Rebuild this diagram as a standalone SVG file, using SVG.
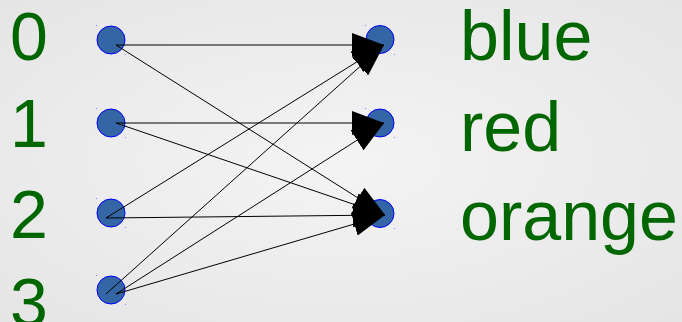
<svg xmlns="http://www.w3.org/2000/svg" width="682" height="322" viewBox="0 0 682 322">
  <defs>
    <radialGradient id="bg" cx="50%" cy="50%" r="75%">
      <stop offset="0" stop-color="#f4f4f4"/>
      <stop offset="1" stop-color="#e4e4e4"/>
    </radialGradient>
    <marker id="arr" markerUnits="userSpaceOnUse" markerWidth="32" markerHeight="24" refX="32" refY="12" orient="auto" viewBox="0 0 32 24">
      <path d="M0,0 L32,12 L0,24 z" fill="#000"/>
    </marker>
  </defs>
  <style>
    .node { fill: #3465a4; stroke: #0000ff; stroke-width: 1; }
    .edge { stroke: #000; stroke-width: 1; fill: none; marker-end: url(#arr); }
    .lbl { font-family: "Liberation Sans", Arial, sans-serif; font-size: 68px; fill: #006600; }
    .dot { fill: #8080ff; }
  </style>
  <rect width="682" height="322" fill="url(#bg)"/>
  <g id="labels-left">
    <text class="lbl" x="10" y="60">0</text>
    <text class="lbl" x="10" y="147">1</text>
    <text class="lbl" x="10" y="238">2</text>
    <text class="lbl" x="10" y="326">3</text>
  </g>
  <g id="node-0"><circle class="node" cx="111" cy="40" r="14"/><rect class="dot" x="96" y="25" width="1" height="1"/><rect class="dot" x="125" y="54" width="1" height="1"/></g>
  <g id="node-1"><circle class="node" cx="111" cy="123" r="14"/><rect class="dot" x="96" y="108" width="1" height="1"/><rect class="dot" x="125" y="137" width="1" height="1"/></g>
  <g id="node-2"><circle class="node" cx="111" cy="213" r="14"/><rect class="dot" x="96" y="198" width="1" height="1"/><rect class="dot" x="125" y="227" width="1" height="1"/></g>
  <g id="node-3"><circle class="node" cx="111" cy="290" r="14"/><rect class="dot" x="96" y="275" width="1" height="1"/><rect class="dot" x="125" y="304" width="1" height="1"/></g>
  <g id="node-blue"><circle class="node" cx="380" cy="39.5" r="14"/><rect class="dot" x="365" y="25" width="1" height="1"/><rect class="dot" x="394" y="54" width="1" height="1"/><text class="lbl" x="460" y="60" font-size="70" style="font-size:70px">blue</text></g>
  <g id="node-red"><circle class="node" cx="380" cy="123" r="14"/><rect class="dot" x="365" y="108" width="1" height="1"/><rect class="dot" x="394" y="137" width="1" height="1"/><text class="lbl" x="460" y="151" style="font-size:70px">red</text></g>
  <g id="node-orange"><circle class="node" cx="380" cy="213.5" r="14"/><rect class="dot" x="365" y="199" width="1" height="1"/><rect class="dot" x="394" y="228" width="1" height="1"/><text class="lbl" x="460" y="240" style="font-size:70px">orange</text></g>
  <g id="connectors">
    <line class="edge" x1="116" y1="45" x2="384" y2="45"/>
    <line class="edge" x1="116" y1="45" x2="385" y2="215"/>
    <line class="edge" x1="116" y1="123" x2="384" y2="123"/>
    <line class="edge" x1="116" y1="123" x2="385" y2="215"/>
    <line class="edge" x1="106" y1="218" x2="384" y2="45"/>
    <line class="edge" x1="106" y1="218" x2="385" y2="215"/>
    <line class="edge" x1="106" y1="294" x2="384" y2="45"/>
    <line class="edge" x1="116" y1="294" x2="384" y2="123"/>
    <line class="edge" x1="116" y1="294" x2="385" y2="215"/>
  </g>
</svg>
